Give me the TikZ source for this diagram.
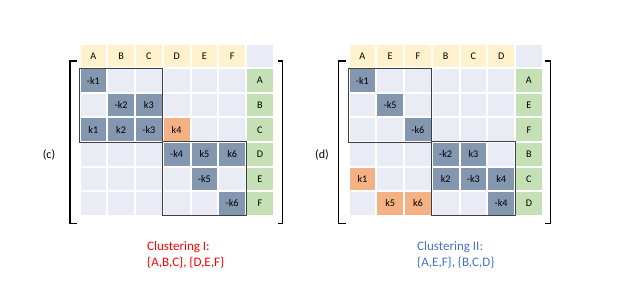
\documentclass[tikz,border=0pt]{standalone}
\usepackage{fontspec}
\setmainfont{Carlito}
\usepackage{xcolor}
\usetikzlibrary{positioning}
\definecolor{cellbg}{HTML}{E9EBF5}
\definecolor{celldk}{HTML}{8497B0}
\definecolor{cellor}{HTML}{F4B183}
\definecolor{hdrbg}{HTML}{FFF2CC}
\definecolor{lblbg}{HTML}{C5E0B4}
\definecolor{capred}{HTML}{FF0000}
\definecolor{capblue}{HTML}{4472C4}

\begin{document}
\begin{tikzpicture}[x=1pt, y=-1pt, every node/.style={font=\fontsize{10.2}{12}\selectfont},
  cell/.style={minimum width=25.75pt, minimum height=22.6pt, inner sep=0pt, fill=cellbg},
  dk/.style={cell, fill=celldk}, orng/.style={cell, fill=cellor},
  hd/.style={cell, fill=hdrbg}, lb/.style={cell, fill=lblbg},
  block/.style={draw=black!75, line width=1pt},
  brk/.style={line width=1.6pt}]
  \useasboundingbox (0,0) rectangle (628,297);
  \def\cw{27.75}
  \def\rh{24.57}
  % the two grids: prefix / x of first column / labels
  \foreach \m/\xo/\lst in {c/93.4/{A,B,C,D,E,F}, d/362.4/{A,E,F,B,C,D}} {
    \foreach \t [count=\i] in \lst {
      \node[hd] (\m-h\i) at ({\xo+(\i-1)*\cw},56) {\t};
      \node[lb] (\m-l\i) at ({\xo+6*\cw},{80.6+(\i-1)*\rh}) {\t};
      \foreach \j in {1,...,6}
        \node[cell] (\m-\i\j) at ({\xo+(\j-1)*\cw},{80.6+(\i-1)*\rh}) {};
    }
    \node[cell] (\m-h7) at ({\xo+6*\cw},56) {};
  }
  % (c)
  \node[dk] (c-e11) at (c-11) {-k1};
  \node[dk] (c-e22) at (c-22) {-k2};
  \node[dk] (c-e23) at (c-23) {k3};
  \node[dk] (c-e31) at (c-31) {k1};
  \node[dk] (c-e32) at (c-32) {k2};
  \node[dk] (c-e33) at (c-33) {-k3};
  \node[orng] (c-e34) at (c-34) {k4};
  \node[dk] (c-e44) at (c-44) {-k4};
  \node[dk] (c-e45) at (c-45) {k5};
  \node[dk] (c-e46) at (c-46) {k6};
  \node[dk] (c-e55) at (c-55) {-k5};
  \node[dk] (c-e66) at (c-66) {-k6};
  % (d)
  \node[dk] (d-e11) at (d-11) {-k1};
  \node[dk] (d-e22) at (d-22) {-k5};
  \node[dk] (d-e33) at (d-33) {-k6};
  \node[dk] (d-e44) at (d-44) {-k2};
  \node[dk] (d-e45) at (d-45) {k3};
  \node[orng] (d-e51) at (d-51) {k1};
  \node[dk] (d-e54) at (d-54) {k2};
  \node[dk] (d-e55) at (d-55) {-k3};
  \node[dk] (d-e56) at (d-56) {k4};
  \node[orng] (d-e62) at (d-62) {k5};
  \node[orng] (d-e63) at (d-63) {k6};
  \node[dk] (d-e66) at (d-66) {-k4};
  % cluster blocks and brackets
  \foreach \m/\xa/\xb in {c/69.7/282.5, d/338.5/550.3} {
    \draw[block] ([shift={(-1,-1)}]\m-11.north west) rectangle ([shift={(1,1)}]\m-33.south east);
    \draw[block] ([shift={(-1,-1)}]\m-44.north west) rectangle ([shift={(1,1)}]\m-66.south east);
    \draw[brk] (\xa+7,61) -- (\xa,61) -- (\xa,223.3) -- (\xa+7,223.3);
    \draw[brk] (\xb-5,61) -- (\xb,61) -- (\xb,223.3) -- (\xb-5,223.3);
  }
  \node[font=\fontsize{12}{14}\selectfont] (c-tag) at (49,155) {(c)};
  \node[font=\fontsize{12}{14}\selectfont] (d-tag) at (322,155) {(d)};
  \node[anchor=west, align=left, text=capred, inner sep=0pt, font=\fontsize{13}{16}\selectfont]
    (c-cap) at (147,255) {Clustering I:\\\{A,B,C\}, \{D,E,F\}};
  \node[anchor=west, align=left, text=capblue, inner sep=0pt, font=\fontsize{13}{16}\selectfont]
    (d-cap) at (417,255) {Clustering II:\\\{A,E,F\}, \{B,C,D\}};
\end{tikzpicture}
\end{document}
